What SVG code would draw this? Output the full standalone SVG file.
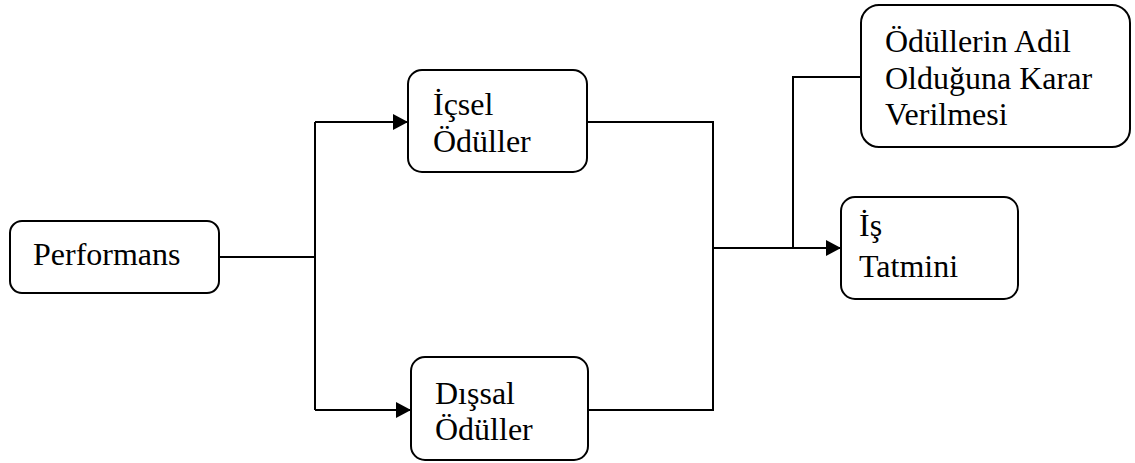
<svg xmlns="http://www.w3.org/2000/svg" width="1135" height="463" viewBox="0 0 1135 463">
<defs>
<marker id="arr" markerWidth="15" markerHeight="16" refX="15" refY="8" orient="auto" markerUnits="userSpaceOnUse">
<path d="M0,0 L15,8 L0,16 Z" fill="#000"/>
</marker>
<style>
.box{fill:#fff;stroke:#000;stroke-width:2}
.t{font-family:'Liberation Serif','Times New Roman',Times,serif;font-size:32px;fill:#000}
.c{fill:none;stroke:#000;stroke-width:2}
</style>
</defs>
<rect width="1135" height="463" fill="#fff"/>
<g id="connectors">
<path class="c" d="M219,257 H315"/>
<path class="c" d="M315,122 V410"/>
<path class="c" d="M315,122 H408" marker-end="url(#arr)"/>
<path class="c" d="M315,410 H411" marker-end="url(#arr)"/>
<path class="c" d="M587,122 H713 V410 H588"/>
<path class="c" d="M713,248 H841" marker-end="url(#arr)"/>
<path class="c" d="M793,248 V77 H861"/>
</g>
<g id="performans">
<rect class="box" x="10" y="221" width="209" height="72" rx="12"/>
<text class="t" x="33" y="265">Performans</text>
</g>
<g id="icsel">
<rect class="box" x="408" y="70" width="179" height="102" rx="14"/>
<text class="t" x="433" y="115">İçsel</text>
<text class="t" x="433" y="152">Ödüller</text>
</g>
<g id="dissal">
<rect class="box" x="411" y="357" width="177" height="103" rx="14"/>
<text class="t" x="435" y="404">Dışsal</text>
<text class="t" x="435" y="440">Ödüller</text>
</g>
<g id="adil">
<rect class="box" x="861" y="5" width="269" height="142" rx="18"/>
<text class="t" x="885" y="52">Ödüllerin Adil</text>
<text class="t" x="885" y="89">Olduğuna Karar</text>
<text class="t" x="885" y="125">Verilmesi</text>
</g>
<g id="tatmin">
<rect class="box" x="841" y="197" width="177" height="102" rx="14"/>
<text class="t" x="859" y="236">İş</text>
<text class="t" x="859" y="277">Tatmini</text>
</g>
</svg>
